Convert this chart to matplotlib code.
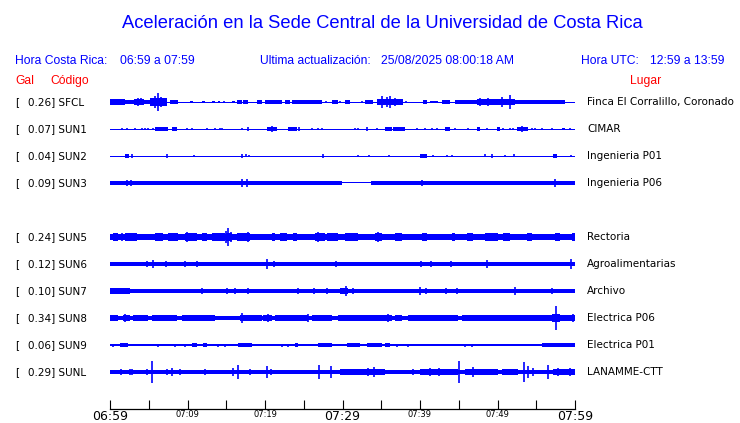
import matplotlib; matplotlib.use("Agg")
import matplotlib.pyplot as plt

BLUE = "#0000ff"; RED = "#ff0000"

# estaciones (fila 4 vacia: SUN4 sin datos)
codes  = ["SFCL","SUN1","SUN2","SUN3","SUN5","SUN6","SUN7","SUN8","SUN9","SUNL"]
gal    = [0.26, 0.07, 0.04, 0.09, 0.24, 0.12, 0.10, 0.34, 0.06, 0.29]
places = ["Finca El Corralillo, Coronado","CIMAR","Ingenieria P01","Ingenieria P06",
          "Rectoria","Agroalimentarias","Archivo","Electrica P06","Electrica P01","LANAMME-CTT"]
rows   = [0,1,2,3,5,6,7,8,9,10]

# bandas de la envolvente: (min inicio, min fin, semi-amplitud px) ; minutos desde 06:59
bands = {
 "SFCL": [(0,60,0.5),(0.00,1.94,2.3),(1.94,3.14,1.7),(3.14,4.43,3.0),(4.43,5.16,1.2),(5.16,7.31,4.0),
          (7.74,8.82,1.2),(10.32,10.75,1.0),(11.91,12.26,1.0),(13.12,13.55,0.9),(13.98,14.19,0.9),
          (15.70,16.13,0.9),(16.34,16.99,1.2),(17.20,17.85,1.2),(18.92,19.57,1.2),(20.00,22.15,1.5),
          (22.58,23.23,1.8),(23.44,27.31,1.5),(28.60,29.46,1.3),(30.32,30.97,1.2),(32.90,33.98,1.2),
          (34.41,37.85,3.0),(40.43,40.86,1.3),(41.29,42.37,1.0),(42.80,43.87,1.3),(44.52,47.31,1.5),
          (47.31,50.11,2.5),(50.11,52.26,2.8),(52.26,58.71,1.4)],
 "SUN1": [(0,60,0.5),(5.81,7.53,1.7),(7.96,8.60,1.5),(20.22,21.51,2.0),(23.01,24.09,1.5),
          (35.48,36.34,1.3),(36.56,38.06,1.3),(43.23,43.87,1.5),(47.31,47.74,1.3),(49.89,50.32,1.3),
          (52.47,53.98,1.8),(58.28,58.71,1.0)],
 "SUN2": [(0,60,0.5),(1.94,2.45,1.5),(40.00,40.86,1.5),(57.20,57.72,1.5)],
 "SUN3": [(0,29.98,1.7),(29.98,33.68,0.5),(33.68,60,1.7)],
 "SUN5": [(0,60,2.2),(0.43,1.08,3.2),(1.94,3.44,3.2),(5.81,6.88,3.2),(7.53,8.82,3.2),(9.68,11.18,3.2),
          (11.83,12.47,3.2),(13.12,14.84,3.2),(14.92,15.70,3.8),(16.34,18.06,3.5),(20.86,21.29,3.5),
          (21.94,22.80,3.2),(23.66,24.09,3.2),(26.45,27.74,3.5),(27.96,29.46,3.2),(30.32,32.04,3.2),
          (34.19,35.05,3.3),(36.77,37.63,3.3),(40.22,40.86,3.2),(44.09,44.52,3.5),(46.02,46.88,3.5),
          (48.39,50.11,3.2),(50.75,51.61,3.2),(53.76,54.41,3.2),(57.42,58.06,3.5),(59.57,60,3.2)],
 "SUN6": [(0,60,1.7)],
 "SUN7": [(0,60,1.7),(0,2.58,2.3),(1.29,2.37,2.7),(8.60,10.97,2.0),(14.19,16.56,2.0),(19.57,20.86,2.0),
          (29.68,30.75,3.0),(37.42,38.49,2.0),(48.17,49.89,2.0)],
 "SUN8": [(0,60,1.5),(0,1.08,2.4),(1.72,2.58,2.4),(3.01,4.95,2.4),(5.38,8.60,2.4),(9.25,13.55,2.4),
          (16.77,19.57,2.4),(19.78,20.86,2.4),(21.29,25.59,2.4),(26.02,28.60,2.4),(29.46,36.34,2.4),
          (36.77,37.63,2.4),(38.49,44.95,2.4),(45.38,56.99,2.4),(56.99,58.06,3.7),(58.06,60,2.4)],
 "SUN9": [(0,60,0.6),(1.29,2.37,1.2),(2.80,3.44,1.1),(3.87,4.73,1.1),(7.10,7.74,1.1),(10.54,11.18,1.2),
          (12.04,12.47,1.2),(16.56,18.28,1.2),(20.00,20.43,1.1),(23.87,24.30,1.2),(26.88,28.60,1.2),
          (29.46,30.11,1.1),(30.54,32.26,1.2),(33.12,35.05,1.2),(35.48,36.13,1.2),(39.57,44.73,1.1),
          (47.53,50.11,1.1),(50.54,50.97,1.1),(51.83,55.27,1.1),(55.70,60,1.2)],
 "SUNL": [(0,60,1.8),(29.68,35.48,2.7),(40.00,44.95,2.7),(45.81,50.11,2.7),(50.54,52.69,3.0),(57.20,60,2.7)],
}

# picos aislados: (minuto, semi-amplitud px)
spikes = {
 "SFCL": [(3.6,3.5),(4.0,3.2),(5.81,6.0),(6.24,8.5),(6.6,5.0),(14.71,0.9),(27.85,1.0),(29.68,1.0),
          (32.58,1.0),(35.05,6.0),(35.70,4.5),(36.13,5.5),(36.77,4.0),(38.17,0.9),(47.74,4.0),
          (48.82,3.5),(50.54,5.0),(51.61,6.7)],
 "SUN1": [(1.51,1.0),(2.15,0.7),(3.23,1.0),(4.09,1.0),(4.52,1.0),(4.95,1.0),(5.59,1.0),(9.89,1.0),
          (10.62,1.0),(12.47,1.0),(13.55,1.0),(14.19,1.0),(14.49,1.0),(16.99,1.0),(17.76,1.3),
          (20.86,2.7),(24.43,1.7),(26.02,1.0),(26.88,1.0),(27.40,1.0),(31.61,1.0),(31.96,1.0),
          (33.12,1.3),(34.41,1.0),(39.57,1.0),(40.65,1.0),(41.51,1.0),(42.15,1.0),(44.52,1.0),
          (46.24,1.0),(48.60,1.0),(50.75,1.0),(51.61,1.0),(52.04,1.0),(53.12,2.5),(54.41,1.0),
          (54.84,1.0),(55.70,1.0),(56.99,1.0),(59.35,1.0)],
 "SUN2": [(2.80,1.5),(7.31,1.5),(10.88,0.7),(16.99,1.5),(17.55,1.2),(17.98,1.0),(27.53,1.3),
          (32.04,1.0),(33.46,0.8),(36.04,0.8),(41.72,1.0),(43.44,1.0),(44.09,1.0),(48.39,1.2),
          (49.25,1.3),(50.97,1.0),(52.17,1.2),(59.48,0.8)],
 "SUN3": [(2.15,2.3),(2.71,2.3),(10.62,2.0),(16.99,3.3),(17.63,3.3),(27.53,2.0),(34.84,1.8),
          (40.30,2.3),(48.04,1.8),(49.33,1.7),(57.42,3.3)],
 "SUN5": [(1.51,3.3),(5.16,3.0),(9.89,4.3),(14.97,5.5),(15.27,8.5),(15.61,5.0),(16.99,3.8),
          (17.76,4.7),(26.88,4.5),(34.62,4.5),(44.30,3.8),(49.68,3.5),(57.63,3.8)],
 "SUN6": [(2.28,2.0),(4.73,3.0),(5.59,3.3),(7.23,2.3),(9.68,2.7),(11.27,2.3),(12.26,1.8),(17.85,1.7),
          (20.30,4.5),(21.20,3.0),(29.16,2.7),(35.48,1.7),(40.13,2.3),(41.42,2.3),(43.96,2.7),
          (48.60,3.5),(52.17,2.0),(53.76,1.7),(59.48,4.5)],
 "SUN7": [(4.52,2.0),(5.72,1.8),(6.88,1.7),(11.83,3.0),(15.05,2.7),(16.13,2.7),(17.76,2.3),(24.22,2.3),
          (26.37,2.7),(27.96,2.7),(30.45,4.3),(31.40,2.3),(33.55,2.0),(36.13,2.0),(40.00,3.3),
          (40.73,2.3),(43.35,3.0),(44.73,2.7),(52.26,3.3),(53.12,2.0),(55.27,1.8),(56.99,2.7)],
 "SUN8": [(1.94,3.3),(16.99,4.7),(20.43,3.7),(25.59,3.3),(35.91,3.3),(44.73,3.0),(57.55,12.0),(59.78,3.7)],
 "SUN9": [(0.43,1.2),(6.24,1.2),(8.39,1.2),(9.68,1.2),(13.98,1.2),(14.84,1.2),(22.15,1.2),(23.01,1.2),
          (36.99,1.2),(38.49,1.2),(45.81,1.2),(46.67,1.2),(57.51,2.0)],
 "SUNL": [(1.42,2.7),(2.58,2.5),(2.80,2.7),(4.73,3.0),(5.38,10.3),(7.31,3.0),(7.96,3.3),(9.03,2.7),
          (12.26,2.3),(15.91,3.3),(16.47,6.7),(18.06,2.7),(20.22,5.7),(20.77,2.5),(23.87,2.0),
          (26.24,2.0),(26.97,7.0),(28.52,6.0),(31.40,3.0),(33.33,3.3),(34.11,5.0),(36.13,2.0),
          (38.28,2.0),(39.14,2.3),(41.29,3.5),(42.49,3.3),(43.44,3.0),(45.08,10.3),(46.88,4.7),
          (53.46,9.3),(53.98,5.5),(54.62,3.3),(56.47,7.0),(57.85,3.3),(59.35,3.5)],
}

tick_min = list(range(0, 61, 5))
tick_lab = ["06:59","","07:09","","07:19","","07:29","","07:39","","07:49","","07:59"]
big_lab  = ["06:59","07:29","07:59"]

W, H = 740, 423
fig = plt.figure(figsize=(W/100, H/100), dpi=100)
def fx(x): return x / W
def fy(y): return 1 - y / H

# eje de trazas: y en pixeles desde arriba
y0, dy = 102, 27
ax = fig.add_axes([fx(110), fy(409), fx(575) - fx(110), (409 - 88) / H])
ax.set_xlim(0, 60); ax.set_ylim(409, 88)

for code, r in zip(codes, rows):
    yc = y0 + dy * r
    for t0, t1, hw in bands[code]:
        # ensanchar un poco: el trazo original es mas grueso que la envolvente
        if hw >= 1.6: hw += 0.4
        elif hw >= 1.0: hw += 0.35
        ax.bar(t0, 2 * hw, width=t1 - t0, bottom=yc - hw, align="edge", color=BLUE, lw=0)
    ts = [s[0] for s in spikes[code]]; hs = [s[1] + 0.3 for s in spikes[code]]
    ax.vlines(ts, [yc - h for h in hs], [yc + h for h in hs], color=BLUE, lw=1.2)

for s in ["top", "left", "right"]: ax.spines[s].set_visible(False)
ax.spines["bottom"].set_linewidth(0.9)
ax.set_yticks([])
ax.set_xticks(tick_min)
ax.set_xticklabels(tick_lab)
ax.tick_params(axis="x", direction="in", length=6.5, width=0.8, pad=1)
for lab in ax.get_xticklabels():
    lab.set_fontsize(9 if lab.get_text() in big_lab else 6)
    lab.set_family("DejaVu Sans")

# textos de estaciones
for code, g, place, r in zip(codes, gal, places, rows):
    yc = y0 + dy * r
    fig.text(fx(15), fy(yc), "[", fontsize=7.5, va="center", family="DejaVu Sans")
    fig.text(fx(27.5), fy(yc), f"{g:.2f}] {code}", fontsize=7.5, va="center", family="DejaVu Sans")
    fig.text(fx(587), fy(yc), place, fontsize=7.5, va="center", family="DejaVu Sans")

hf = "Liberation Sans"; fs = 8.7
fig.text(fx(382), fy(23), "Aceleración en la Sede Central de la Universidad de Costa Rica",
         fontsize=13.2, color=BLUE, ha="center", va="center", family=hf)
fig.text(fx(15), fy(61), "Hora Costa Rica:", fontsize=fs, color=BLUE, va="center", family=hf)
fig.text(fx(120), fy(61), "06:59 a 07:59", fontsize=fs, color=BLUE, va="center", family=hf)
fig.text(fx(260), fy(61), "Ultima actualización:", fontsize=fs, color=BLUE, va="center", family=hf)
fig.text(fx(381), fy(61), "25/08/2025 08:00:18 AM", fontsize=fs, color=BLUE, va="center", family=hf)
fig.text(fx(581), fy(61), "Hora UTC:", fontsize=fs, color=BLUE, va="center", family=hf)
fig.text(fx(650), fy(61), "12:59 a 13:59", fontsize=fs, color=BLUE, va="center", family=hf)
fig.text(fx(15), fy(81), "Gal", fontsize=fs, color=RED, va="center", family=hf)
fig.text(fx(50), fy(81), "Código", fontsize=fs, color=RED, va="center", family=hf)
fig.text(fx(630), fy(81), "Lugar", fontsize=fs, color=RED, va="center", family=hf)

fig.savefig("out.png", dpi=100)
